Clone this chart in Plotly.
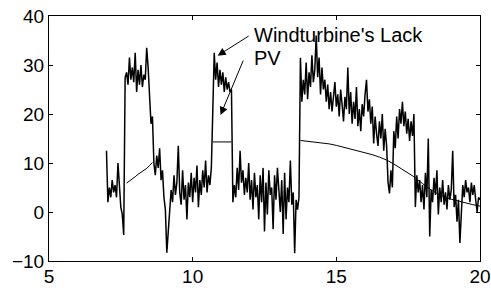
import plotly.graph_objects as go

# ---- data ----
wind_start = 7.0
wind_step = 0.05
wind_lack = [
    # 7.00 - 7.65
    12.5, 2.0, 5.0, 3.0, 6.5, 4.0, 5.5, 3.0, 10.0, 4.5, 1.0, -0.5, -4.7, 27.5,
    # 7.70 - 8.45
    28.5, 26.0, 31.5, 27.0, 29.5, 26.5, 32.5, 24.5, 29.0, 26.0, 30.0, 25.5, 28.0, 27.0, 33.5, 29.5,
    # 8.50 - 8.65
    22.5, 18.0, 19.5, 10.0,
    # 8.70 - 9.20
    7.5, 11.5, 9.0, 13.0, 6.5, 8.5, 3.0, 0.5, -8.3, -3.5, 1.5,
    # 9.25 - 10.65
    4.5, 2.0, 7.5, 3.5, 6.0, 13.5, 4.0, 1.5, 8.5, 2.5,
    5.5, -1.5, 6.0, 3.0, 8.0, 2.0, 7.0, 4.0, 9.5, 1.0,
    6.5, 3.5, 8.5, 5.0, 10.5, 4.0, 7.5, 5.5, 9.0,
    # 10.70 - 11.35
    20.5, 32.5, 27.0, 30.5, 25.5, 29.0, 26.0, 28.5, 24.5, 27.5, 25.0, 26.5, 24.5, 25.0,
    # 11.40 - 13.70
    2.0, 5.5, 3.0, 9.0, 4.5, 12.5, 6.0, 8.5, 3.5, 7.0,
    4.0, 10.0, 2.5, 6.5, 0.5, 8.0, 3.0, 5.5, -1.5, 7.5,
    2.0, 9.0, -4.0, 6.0, -0.5, 8.5, 3.5, 5.0, -3.5, 7.5,
    2.5, 9.0, 4.5, 0.0, 6.5, -4.5, 8.0, -1.5, 5.0, 2.0,
    10.5, 1.5, 4.0, -8.4, 2.5, 0.5, 3.0,
    # 13.75 - 14.45
    31.5, 22.5, 27.0, 24.0, 30.5, 23.0, 28.5, 25.5, 32.0, 26.5, 29.0, 36.0, 27.5, 31.5, 24.0,
    # 14.50 - 16.75
    29.5, 25.0, 27.0, 22.5, 26.0, 21.0, 24.5, 20.5, 23.5, 26.5,
    21.5, 24.0, 19.5, 25.0, 22.0, 18.5, 23.5, 21.0, 29.5, 20.0,
    24.5, 18.0, 22.5, 19.0, 25.5, 17.5, 21.0, 16.5, 22.0, 19.5,
    24.0, 27.0, 20.5, 23.0, 18.0, 21.5, 14.0, 19.5, 16.0, 13.5,
    18.5, 15.0, 20.0, 12.5, 17.0, 13.5,
    # 16.80 - 17.70
    6.0, 3.8, 8.5, 5.0, 16.5, 13.0, 19.5, 15.0, 21.0, 18.0,
    22.5, 17.5, 20.5, 16.0, 19.0, 14.5, 18.5, 15.5, 20.0,
    # 17.75 - 20.00
    1.0, 7.5, 4.0, 6.5, 2.0, 5.5, 0.5, 8.0, 3.0, 15.0,
    -5.0, 4.5, 2.0, 7.0, 3.5, 8.5, -0.5, 5.0, 2.0, 6.5,
    1.5, 4.0, 0.5, 5.5, 2.5, 4.5, 12.5, 1.0, 3.5, -2.0,
    2.5, -6.3, 1.0, 5.5, 3.0, 6.5, 4.0, 5.0, 2.0, 6.0,
    3.5, 5.5, 2.5, 0.0, 3.0, 2.5,
]
wind_x = [round(wind_start + wind_step * i, 2) for i in range(len(wind_lack))]

pv_x = [7.7, 7.8, 7.9, 8.0, 8.1, 8.2, 8.3, 8.4, 8.5, 8.6, None,
        10.7, 11.35, None,
        13.75, 14.0, 14.25, 14.5, 14.75, 15.0, 15.25, 15.5, 15.75, 16.0, 16.25, 16.5,
        16.75, 17.0, 17.25, 17.5, 17.7, 18.0, 18.25, 18.5, 18.75, 19.0, 19.25, 19.5,
        19.75, 20.0]
pv_y = [5.9, 6.3, 6.8, 7.2, 7.7, 8.1, 8.5, 8.9, 9.5, 10.1, None,
        14.3, 14.3, None,
        14.6, 14.45, 14.3, 14.1, 13.9, 13.6, 13.25, 12.9, 12.5, 12.1, 11.7, 11.2,
        10.6, 9.8, 8.9, 7.9, 7.2, 5.8, 4.7, 3.8, 3.1, 2.6, 2.2, 1.9,
        1.5, 1.2]

x_ticks = [5, 10, 15, 20]
y_ticks = [-10, 0, 10, 20, 30, 40]

label_wind = "Windturbine's Lack"
label_pv = "PV"

FONT = "Liberation Sans, Arial, sans-serif"

fig = go.Figure()
fig.add_trace(go.Scatter(x=pv_x, y=pv_y, mode="lines", name=label_pv,
                         line=dict(color="black", width=1), connectgaps=False))
fig.add_trace(go.Scatter(x=wind_x, y=wind_lack, mode="lines", name=label_wind,
                         line=dict(color="black", width=1.5)))

axis_common = dict(showline=True, linecolor="black", linewidth=1, mirror="ticks",
                   ticks="inside", ticklen=4, tickcolor="black", tickwidth=1,
                   showgrid=False, zeroline=False, automargin=False,
                   tickfont=dict(family=FONT, size=19, color="black"))

fig.update_layout(
    width=491, height=288,
    margin=dict(l=49, r=11, t=16, b=27),
    paper_bgcolor="white", plot_bgcolor="white",
    showlegend=False,
    xaxis=dict(range=[5, 20], tickvals=x_ticks, ticklabelstandoff=-2, **axis_common),
    yaxis=dict(range=[-10, 40], tickvals=y_ticks, **axis_common),
)

# text labels
fig.add_annotation(x=12.05, y=36.1, xref="x", yref="y", text=label_wind, showarrow=False,
                   xanchor="left", yanchor="middle",
                   font=dict(family=FONT, size=20, color="black"))
fig.add_annotation(x=12.05, y=31.5, xref="x", yref="y", text=label_pv, showarrow=False,
                   xanchor="left", yanchor="middle",
                   font=dict(family=FONT, size=20, color="black"))
# arrows
fig.add_annotation(x=10.87, y=31.9, ax=12.0, ay=36.1, xref="x", yref="y", axref="x", ayref="y",
                   text="", showarrow=True, arrowhead=2, arrowsize=1.6, arrowwidth=1,
                   arrowcolor="black", standoff=0, startstandoff=0)
fig.add_annotation(x=10.97, y=19.8, ax=11.78, ay=31.2, xref="x", yref="y", axref="x", ayref="y",
                   text="", showarrow=True, arrowhead=2, arrowsize=1.6, arrowwidth=1,
                   arrowcolor="black", standoff=0, startstandoff=0)

fig.write_html("out.html", config={"displayModeBar": False},
               post_script="document.body.style.margin='0';document.body.style.padding='0';")
